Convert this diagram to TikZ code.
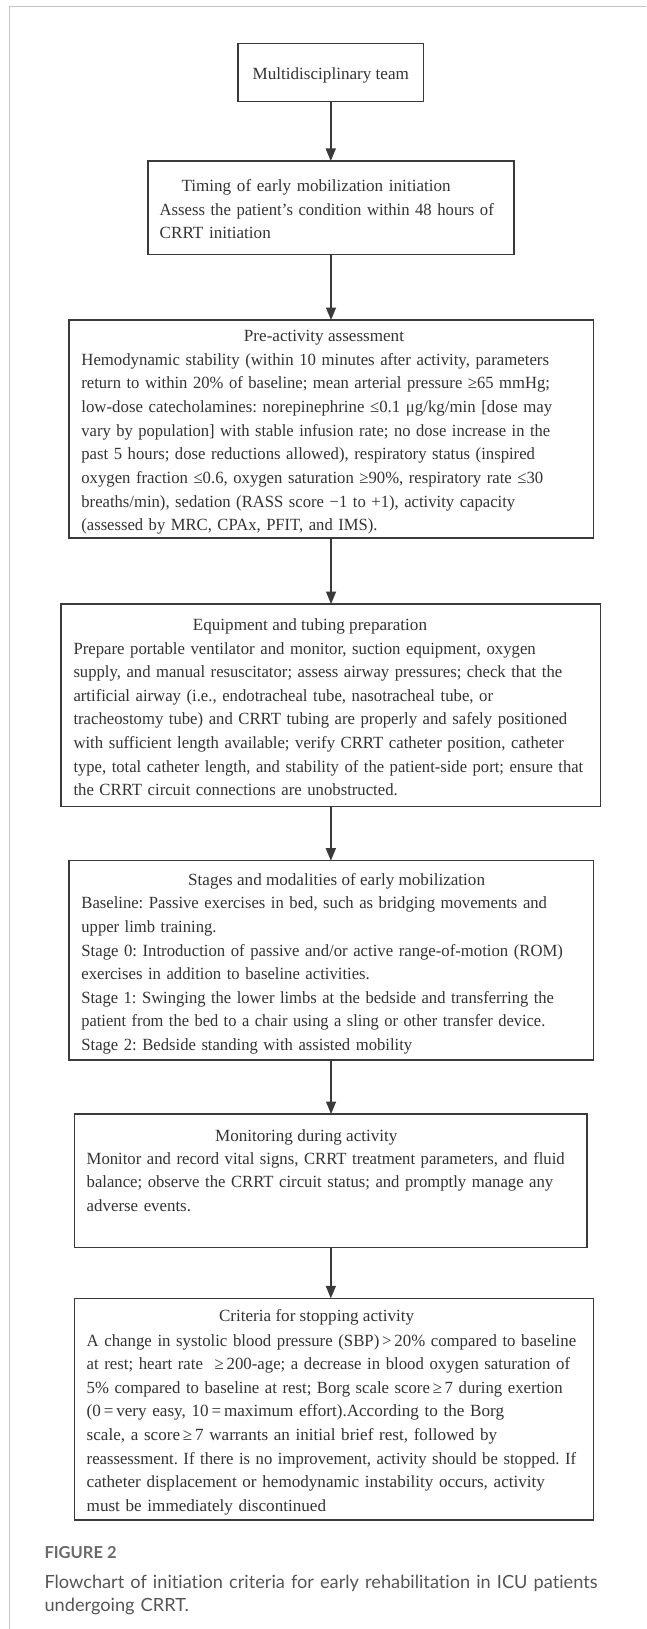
\documentclass[tikz,border=0pt]{standalone}
\usepackage{graphicx}
\usepackage{fontspec}
\setmainfont{Liberation Serif}
\newfontfamily\capfont[Ligatures={NoCommon}]{Lato}
\usetikzlibrary{arrows.meta}
\definecolor{ink}{HTML}{333333}
\definecolor{edge}{HTML}{3A3A3A}
\definecolor{framegray}{HTML}{C4C4C4}
\definecolor{capgray}{HTML}{555555}
\definecolor{figgray}{HTML}{6A6A6A}
\newlength\lnat
\newcommand\lineW[2]{\settowidth{\lnat}{#2}\ifdim\lnat>#1pt\relax\resizebox{#1pt}{\height}{#2}\else\makebox[#1pt][s]{#2}\fi}
\begin{document}
\frenchspacing
\begin{tikzpicture}[x=1pt,y=-1pt,
  box/.style={draw=edge,line width=1.5pt,inner sep=0pt,outer sep=0pt,anchor=north west},
  txt/.style={text=ink,inner sep=0pt,font=\fontsize{17.1}{23.65}\selectfont},
  body/.style={txt,anchor=base west,text width=560pt,align=left},
  ttl/.style={txt,anchor=base},
  arr/.style={draw=edge,line width=1.5pt,-{Triangle[length=12.5pt,width=10pt]}},
  captext/.style={inner sep=0pt,anchor=base west}]
\useasboundingbox (0,0) rectangle (646,1629);
\draw[framegray,line width=1.2pt] (9.3,1629) -- (9.3,6.7) -- (646,6.7);

% boxes
\node[box,minimum width=185.5pt,minimum height=58.4pt] (b1) at (238,43.3) {};
\node[box,minimum width=366pt,minimum height=93.3pt] (b2) at (148,161) {};
\node[box,minimum width=524.5pt,minimum height=218pt] (b3) at (68.8,320) {};
\node[box,minimum width=539.7pt,minimum height=202.7pt] (b4) at (61,604) {};
\node[box,minimum width=524.5pt,minimum height=199.3pt] (b5) at (68.8,860.7) {};
\node[box,minimum width=512.5pt,minimum height=133.3pt] (b6) at (74.6,1114) {};
\node[box,minimum width=518.7pt,minimum height=221.7pt] (b7) at (74.6,1298.3) {};

% arrows
\draw[arr] (b1.south) -- (b1.south |- b2.north);
\draw[arr] (b2.south) -- (b2.south |- b3.north);
\draw[arr] (b3.south) -- (b3.south |- b4.north);
\draw[arr] (b4.south) -- (b4.south |- b5.north);
\draw[arr] (b5.south) -- (b5.south |- b6.north);
\draw[arr] (b6.south) -- (b6.south |- b7.north);

% texts
\node[ttl] (t1) at (330.8,80) {Multidisciplinary team};

\node[body] (t2) at (159.5,191.7) {\hspace*{21.8pt}Timing of early mobilization initiation\\
\lineW{334.1}{Assess the patient’s condition within 48 hours of}\\
CRRT initiation};

\node[ttl] (h3) at (324,341.7) {Pre-activity assessment};
\node[body] (t3) at (81.2,365.3) {\lineW{467.6}{Hemodynamic stability (within 10 minutes after activity, parameters}\\
\lineW{468.5}{return to within 20\% of baseline; mean arterial pressure ≥65 mmHg;}\\
\lineW{470.9}{low-dose catecholamines: norepinephrine ≤0.1 μg/kg/min [dose may}\\
\lineW{468.8}{vary by population] with stable infusion rate; no dose increase in the}\\
\lineW{453.6}{past 5 hours; dose reductions allowed), respiratory status (inspired}\\
\lineW{461.8}{oxygen fraction ≤0.6, oxygen saturation ≥90\%, respiratory rate ≤30}\\
\lineW{433.8}{breaths/min), sedation (RASS score −1 to +1), activity capacity}\\
\lineW{296.2}{(assessed by MRC, CPAx, PFIT, and IMS).}};

\node[ttl] (h4) at (310,630) {Equipment and tubing preparation};
\node[body] (t4) at (73.3,654) {\lineW{462.3}{Prepare portable ventilator and monitor, suction equipment, oxygen}\\
\lineW{488.7}{supply, and manual resuscitator; assess airway pressures; check that the}\\
\lineW{419.5}{artificial airway (i.e., endotracheal tube, nasotracheal tube, or}\\
\lineW{493.7}{tracheostomy tube) and CRRT tubing are properly and safely positioned}\\
\lineW{490.4}{with sufficient length available; verify CRRT catheter position, catheter}\\
\lineW{509.7}{type, total catheter length, and stability of the patient-side port; ensure that}\\
\lineW{324.3}{the CRRT circuit connections are unobstructed.}};

\node[ttl] (h5) at (336.6,885) {Stages and modalities of early mobilization};
\node[body] (t5) at (81.2,908.7) {\lineW{465.6}{Baseline: Passive exercises in bed, such as bridging movements and}\\
\lineW{135.1}{upper limb training.}\\
\lineW{481.6}{Stage 0: Introduction of passive and/or active range-of-motion (ROM)}\\
\lineW{288.4}{exercises in addition to baseline activities.}\\
\lineW{472.6}{Stage 1: Swinging the lower limbs at the bedside and transferring the}\\
\lineW{463.9}{patient from the bed to a chair using a sling or other transfer device.}\\
\lineW{330.8}{Stage 2: Bedside standing with assisted mobility}};

\node[ttl] (h6) at (306.3,1141) {Monitoring during activity};
\node[body] (t6) at (86.5,1164.3) {\lineW{478}{Monitor and record vital signs, CRRT treatment parameters, and fluid}\\
\lineW{466.5}{balance; observe the CRRT circuit status; and promptly manage any}\\
\lineW{104.3}{adverse events.}};

\node[ttl] (h7) at (316.6,1321.7) {Criteria for stopping activity};
\node[body] (t7) at (86.5,1346) {\lineW{489.5}{A change in systolic blood pressure (SBP)\,>\,20\% compared to baseline}\\
\lineW{483.3}{at rest; heart rate\hspace*{12pt}≥\,200-age; a decrease in blood oxygen saturation of}\\
\lineW{475.9}{5\% compared to baseline at rest; Borg scale score\,≥\,7 during exertion}\\
\lineW{440.9}{(0\,=\,very easy, 10\,=\,maximum effort).According to the Borg}\\
\lineW{410.5}{scale, a score\,≥\,7 warrants an initial brief rest, followed by}\\
\lineW{489.5}{reassessment. If there is no improvement, activity should be stopped. If}\\
\lineW{463.5}{catheter displacement or hemodynamic instability occurs, activity}\\
\lineW{244.4}{must be immediately discontinued}};

% caption
\node[captext,text=figgray,font=\capfont\bfseries\fontsize{16.5}{18}\selectfont] (c1) at (44.3,1558) {FIGURE 2};
\node[captext,text=capgray,font=\capfont\fontsize{18.2}{23.5}\selectfont,text width=600pt,align=left] (c2) at (44.3,1588) {Flowchart of initiation criteria for early rehabilitation in ICU patients\\
undergoing CRRT.};
\end{tikzpicture}
\end{document}
